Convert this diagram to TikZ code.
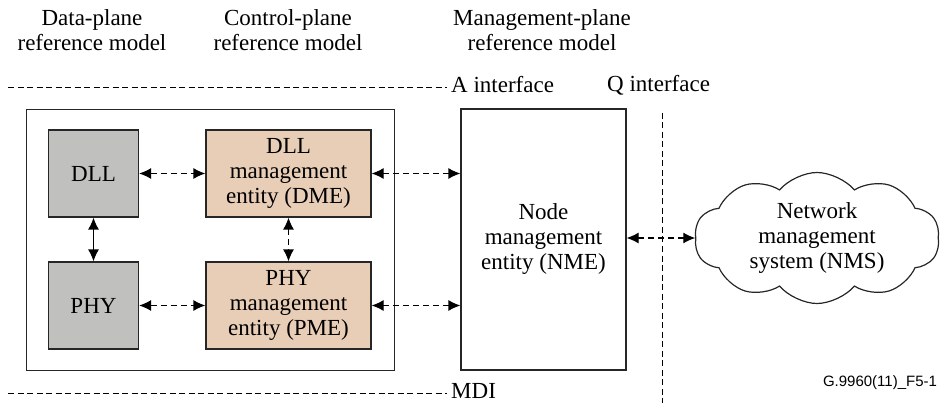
\documentclass[tikz,border=0pt]{standalone}
\usepackage{fontspec}
\setmainfont{Liberation Serif}
\newfontfamily\labelfont{Liberation Sans}
\usetikzlibrary{arrows.meta,shapes.symbols}
\definecolor{layergray}{HTML}{C0C0BE}
\definecolor{mgmttan}{HTML}{E8CDB7}
\tikzset{
  layerbox/.style={draw=black!85, line width=1.2pt, fill=layergray, minimum width=90pt, minimum height=87pt, inner sep=0pt, align=center},
  mgmtbox/.style={draw=black!85, line width=1.2pt, fill=mgmttan, minimum width=165pt, minimum height=87pt, inner sep=0pt, align=center},
  biarrow/.style={{Latex[length=12pt,width=11pt]}-{Latex[length=12pt,width=11pt]}, line width=1.2pt, black},
  dasharrow/.style={biarrow, dash pattern=on 6pt off 4pt},
  ifline/.style={line width=1.2pt, black, dash pattern=on 6pt off 3.5pt},
  title/.style={align=center, inner sep=0pt}
}
\begin{document}
\begin{tikzpicture}[x=1pt,y=-1pt,font=\fontsize{23}{25}\selectfont]
  \useasboundingbox (0,0) rectangle (944,403);

  % plane titles
  \node[title] (tdata) at (92,30) {Data-plane\\reference model};
  \node[title] (tctrl) at (288,30) {Control-plane\\reference model};
  \node[title] (tmgmt) at (542,30) {Management-plane\\reference model};

  % interfaces
  \coordinate (aleft) at (8,87.5);
  \node[anchor=west, inner sep=0pt] (aif) at (451,85) {A interface};
  \coordinate (aright) at (447,87.5);
  \draw[ifline] (aleft) -- (aright);
  \node[anchor=west, inner sep=0pt] (qif) at (607,85) {Q interface};
  \coordinate (qtop) at (662.5,113);
  \coordinate (qbot) at (662.5,403);
  \draw[ifline] (qtop) -- (qbot);
  \coordinate (mleft) at (8,393.5);
  \node[anchor=west, inner sep=0pt] (mdi) at (451,391) {MDI};
  \coordinate (mright) at (447,393.5);
  \draw[ifline] (mleft) -- (mright);

  % station
  \draw[line width=1.2pt, black!85] (26.5,109.5) rectangle (394.5,370.5);
  \node[layerbox] (dll) at (93.5,173.5) {DLL};
  \node[layerbox] (phy) at (93.5,305.5) {PHY};
  \node[mgmtbox] (dme) at (288.5,173.5) {DLL\\management\\entity (DME)};
  \node[mgmtbox] (pme) at (288.5,305.5) {PHY\\management\\entity (PME)};
  \node[draw=black!85, line width=1.2pt, minimum width=165pt, minimum height=261pt, inner sep=0pt, align=center] (nme) at (543.5,239.5) {Node\\management\\entity (NME)};
  \node[cloud, draw=black!85, line width=1.2pt, cloud puffs=10, cloud puff arc=100, aspect=1.9, minimum width=245pt, minimum height=131pt, inner sep=0pt, align=center] (nms) at (817,238) {Network\\management\\system (NMS)};

  % links
  \draw[biarrow] (dll) -- (phy);
  \draw[dasharrow] (dme) -- (pme);
  \draw[dasharrow] (dll) -- (dme);
  \draw[dasharrow] (phy) -- (pme);
  \draw[dasharrow] (dme.east) -- (dme.east -| nme.west);
  \draw[dasharrow] (pme.east) -- (pme.east -| nme.west);
  \draw[dasharrow] (nme.east |- nms.west) -- (nms.west);

  \node[font=\labelfont\fontsize{15}{17}\selectfont, inner sep=0pt] (figid) at (880,383) {G.9960(11)\_F5-1};
\end{tikzpicture}
\end{document}
